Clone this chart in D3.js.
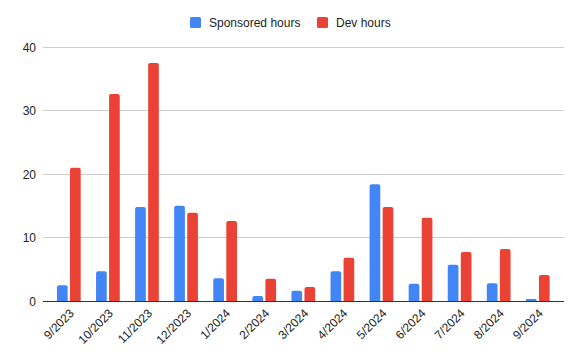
<!DOCTYPE html>
<html><head><meta charset="utf-8">
<script src="https://cdn.jsdelivr.net/npm/d3@7"></script>
<style>body{margin:0;background:#fff}text{font-family:"Liberation Sans",Arial,sans-serif}</style>
</head><body><svg id="c" width="578" height="356"></svg>
<script>
const categories = ["9/2023","10/2023","11/2023","12/2023","1/2024","2/2024","3/2024","4/2024","5/2024","6/2024","7/2024","8/2024","9/2024"];
const sponsoredHours = [2.5,4.7,14.8,15.0,3.6,0.8,1.6,4.7,18.4,2.7,5.7,2.8,0.3];
const devHours = [21.0,32.6,37.5,13.9,12.6,3.5,2.2,6.8,14.8,13.1,7.7,8.2,4.1];
const seriesNames = ["Sponsored hours","Dev hours"];
const colors = ["#4285F4","#EA4335"];
const yTicks = [0,10,20,30,40];

const svg = d3.select("#c");
const y = d3.scaleLinear().domain([0,40]).range([301,47]);
const x = d3.scaleBand().domain(categories).range([49.3,557.3]).paddingInner(0.393).paddingOuter(0.196);
const xs = d3.scaleBand().domain(seriesNames).range([0,x.bandwidth()]).paddingInner(0.18);

// gridlines
svg.append("g").selectAll("line").data(yTicks.filter(d=>d>0)).join("line")
  .attr("x1",43).attr("x2",564).attr("y1",d=>y(d)).attr("y2",d=>y(d))
  .attr("stroke","#cccccc").attr("stroke-width",1).attr("shape-rendering","crispEdges");

// y labels
const yAxis = d3.axisLeft(y).tickValues(yTicks).tickSize(0).tickPadding(0);
const ya = svg.append("g").attr("transform","translate(36,0)").call(yAxis);
ya.select(".domain").remove();
ya.selectAll("text").attr("font-size",12).attr("fill","#222").attr("dy","0.35em");

// bars
const data = categories.map((c,i)=>({c, vals:[sponsoredHours[i],devHours[i]]}));
const r = 2;
function barPath(x0,w,yTop,yBase){
  const rr = Math.min(r, (yBase-yTop)/2, w/2);
  return `M${x0},${yBase}V${yTop+rr}Q${x0},${yTop} ${x0+rr},${yTop}H${x0+w-rr}Q${x0+w},${yTop} ${x0+w},${yTop+rr}V${yBase}Z`;
}
const g = svg.append("g").selectAll("g").data(data).join("g")
  .attr("transform",d=>`translate(${x(d.c)},0)`);
g.selectAll("path").data(d=>d.vals.map((v,k)=>({v,k}))).join("path")
  .attr("d",d=>barPath(xs(seriesNames[d.k]),xs.bandwidth(),y(d.v),y(0)))
  .attr("fill",d=>colors[d.k]);

// baseline
svg.append("line").attr("x1",43).attr("x2",564).attr("y1",301.5).attr("y2",301.5)
  .attr("stroke","#333").attr("stroke-width",1);

// x labels
const xAxis = d3.axisBottom(x).tickSize(0).tickPadding(0);
const xa = svg.append("g").attr("transform","translate(0,308)").call(xAxis);
xa.select(".domain").remove();
xa.selectAll("text").attr("font-size",12).attr("fill","#222")
  .attr("text-anchor","end").attr("dy","0.7em")
  .attr("transform","translate(0,0) rotate(-45)");

// legend
const leg = svg.append("g");
const legX = [190,317];
seriesNames.forEach((n,i)=>{
  leg.append("rect").attr("x",legX[i]).attr("y",17).attr("width",11).attr("height",11).attr("rx",1.5).attr("fill",colors[i]);
  leg.append("text").attr("x",legX[i]+19).attr("y",22.5).attr("dy","0.35em").attr("font-size",12).attr("fill","#222").text(n);
});
</script></body></html>
